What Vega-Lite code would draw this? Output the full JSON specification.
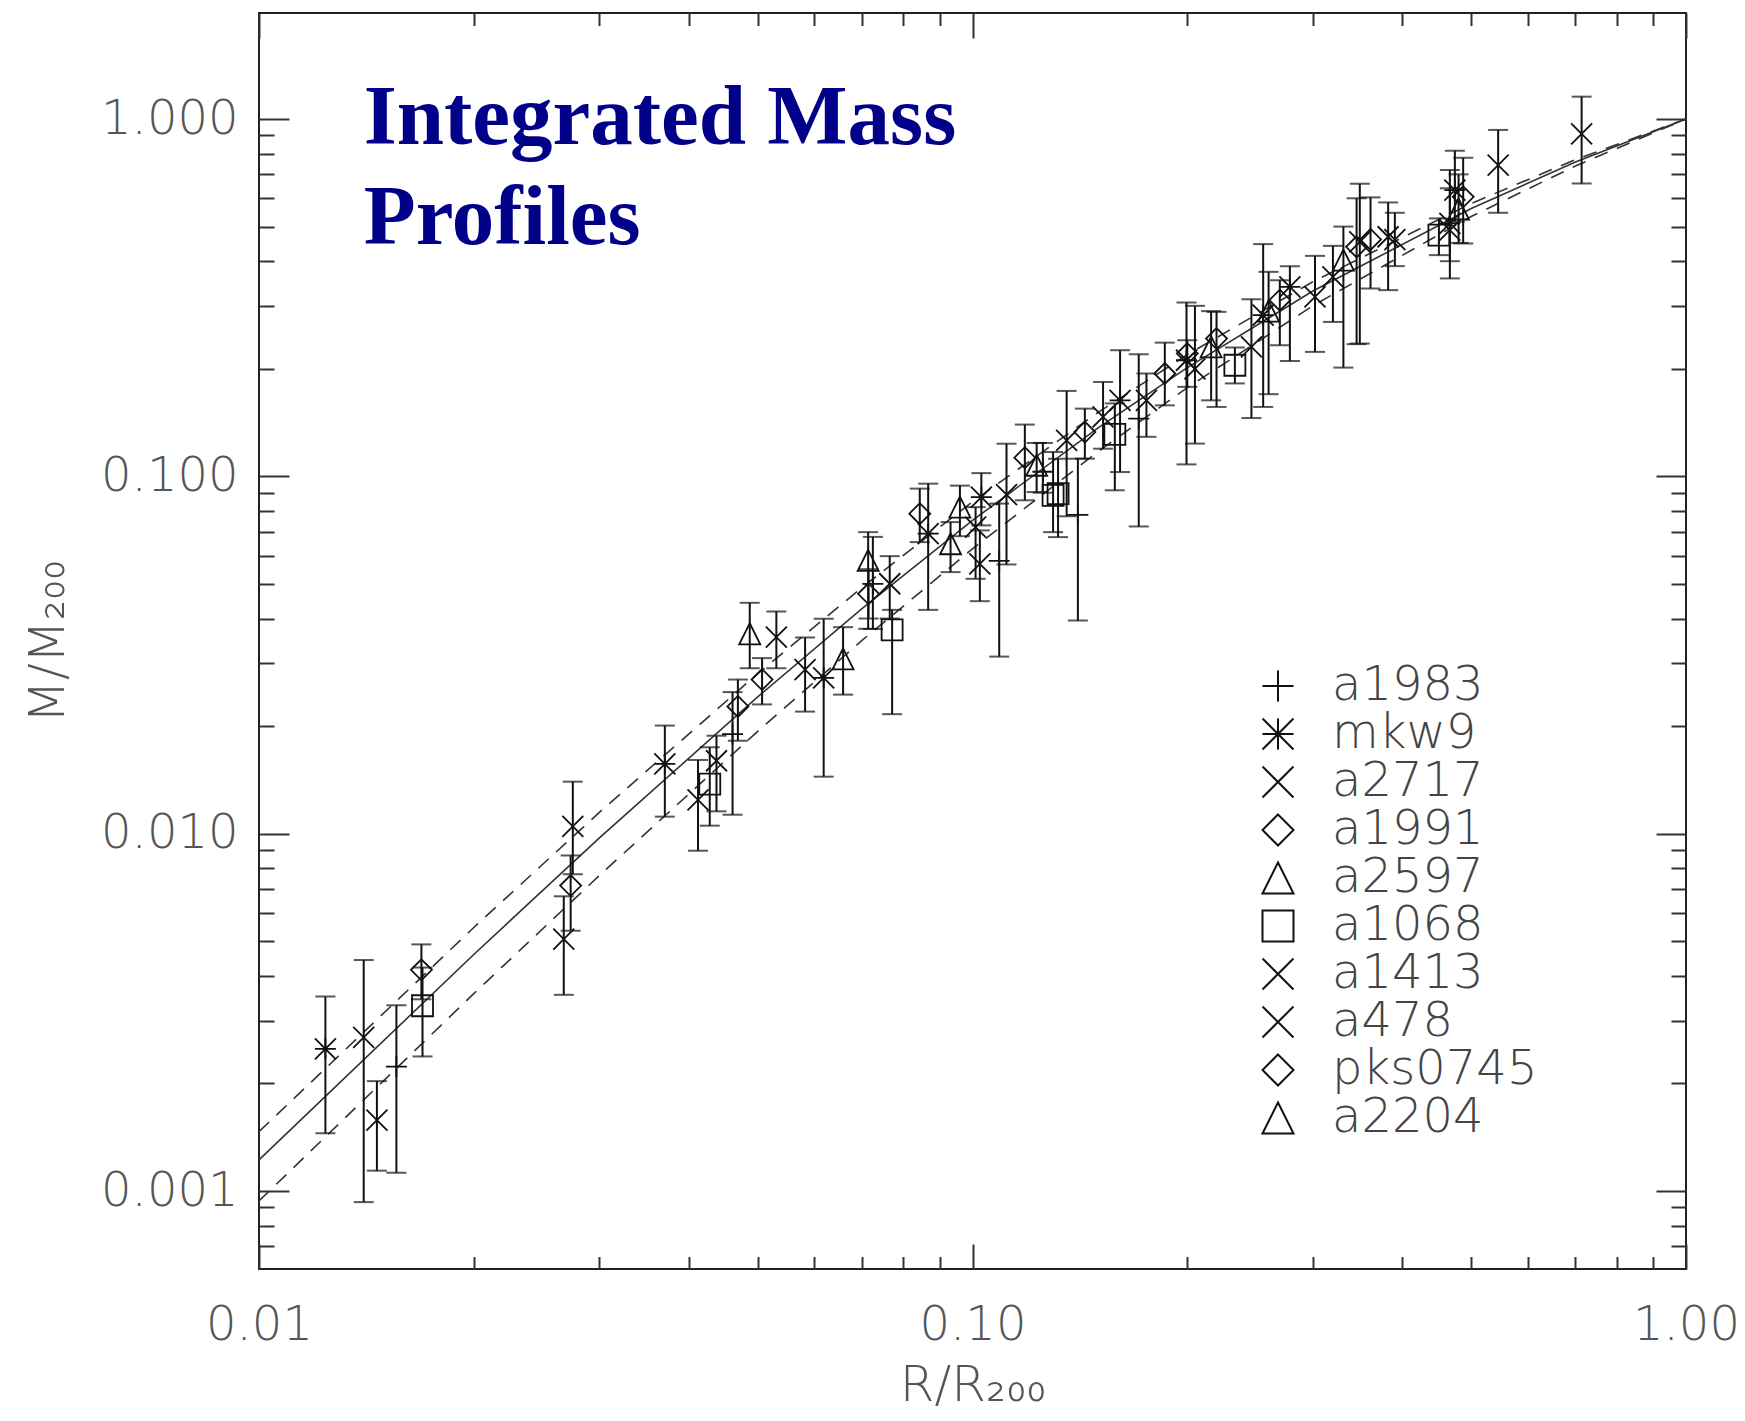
{
  "$schema": "https://vega.github.io/schema/vega-lite/v6.json",
  "autosize": "none",
  "width": 1427,
  "height": 1256,
  "padding": {"left": 259, "top": 13, "right": 59, "bottom": 152},
  "background": "white",
  "config": {
    "view": {"stroke": "#222", "strokeWidth": 2},
    "axis": {"grid": false, "domain": false, "tickColor": "#333", "tickWidth": 2, "labelFont": "DejaVu Sans", "labelFontWeight": 200, "labelColor": "#555", "titleFont": "DejaVu Sans", "titleFontWeight": 200, "titleColor": "#555"}
  },
  "datasets": {
    "lines": [
      {"x": 0.01, "y": 0.001222, "k": "solid"}, {"x": 0.02, "y": 0.004592, "k": "solid"}, {"x": 0.03, "y": 0.009732, "k": "solid"}, {"x": 0.05, "y": 0.024148, "k": "solid"}, {"x": 0.07, "y": 0.042618, "k": "solid"}, {"x": 0.1, "y": 0.075262, "k": "solid"}, {"x": 0.15, "y": 0.13673, "k": "solid"}, {"x": 0.2, "y": 0.20153, "k": "solid"}, {"x": 0.3, "y": 0.33002, "k": "solid"}, {"x": 0.5, "y": 0.56184, "k": "solid"}, {"x": 0.7, "y": 0.75782, "k": "solid"}, {"x": 1.0, "y": 1.0, "k": "solid"},
      {"x": 0.01, "y": 0.001466, "k": "upper"}, {"x": 0.02, "y": 0.005463, "k": "upper"}, {"x": 0.03, "y": 0.011478, "k": "upper"}, {"x": 0.05, "y": 0.028042, "k": "upper"}, {"x": 0.07, "y": 0.048858, "k": "upper"}, {"x": 0.1, "y": 0.084904, "k": "upper"}, {"x": 0.15, "y": 0.15103, "k": "upper"}, {"x": 0.2, "y": 0.21906, "k": "upper"}, {"x": 0.3, "y": 0.3505, "k": "upper"}, {"x": 0.5, "y": 0.58026, "k": "upper"}, {"x": 0.7, "y": 0.76974, "k": "upper"}, {"x": 1.0, "y": 1.0, "k": "upper"},
      {"x": 0.01, "y": 0.000938, "k": "lower"}, {"x": 0.02, "y": 0.003567, "k": "lower"}, {"x": 0.03, "y": 0.007642, "k": "lower"}, {"x": 0.05, "y": 0.019341, "k": "lower"}, {"x": 0.07, "y": 0.034728, "k": "lower"}, {"x": 0.1, "y": 0.062707, "k": "lower"}, {"x": 0.15, "y": 0.11737, "k": "lower"}, {"x": 0.2, "y": 0.17709, "k": "lower"}, {"x": 0.3, "y": 0.30021, "k": "lower"}, {"x": 0.5, "y": 0.53364, "k": "lower"}, {"x": 0.7, "y": 0.73898, "k": "lower"}, {"x": 1.0, "y": 1.0, "k": "lower"}
    ],
    "pts": [
      {"x": 0.01239, "y": 0.0025, "lo": 0.00145, "hi": 0.0035, "c": "mkw9"},
      {"x": 0.01402, "y": 0.00269, "lo": 0.000931, "hi": 0.00443, "c": "a2717"},
      {"x": 0.01463, "y": 0.00158, "lo": 0.00114, "hi": 0.00203, "c": "a2717"},
      {"x": 0.01558, "y": 0.00223, "lo": 0.001125, "hi": 0.00331, "c": "a1983"},
      {"x": 0.01689, "y": 0.00416, "lo": 0.00344, "hi": 0.0049, "c": "a1991"},
      {"x": 0.01695, "y": 0.0033, "lo": 0.00238, "hi": 0.00422, "c": "a1068"},
      {"x": 0.02674, "y": 0.00507, "lo": 0.00354, "hi": 0.00668, "c": "a1413"},
      {"x": 0.02734, "y": 0.00716, "lo": 0.00535, "hi": 0.00869, "c": "a1991"},
      {"x": 0.02753, "y": 0.01048, "lo": 0.0077, "hi": 0.01398, "c": "a2717"},
      {"x": 0.03705, "y": 0.01567, "lo": 0.01116, "hi": 0.02007, "c": "mkw9"},
      {"x": 0.04124, "y": 0.01243, "lo": 0.00896, "hi": 0.01608, "c": "a1413"},
      {"x": 0.04283, "y": 0.01377, "lo": 0.01053, "hi": 0.01745, "c": "a1068"},
      {"x": 0.04377, "y": 0.016, "lo": 0.01155, "hi": 0.0188, "c": "a2717"},
      {"x": 0.0461, "y": 0.019, "lo": 0.0113, "hi": 0.0249, "c": "a1983"},
      {"x": 0.0469, "y": 0.0227, "lo": 0.0182, "hi": 0.027, "c": "a1991"},
      {"x": 0.05071, "y": 0.027, "lo": 0.023, "hi": 0.031, "c": "pks0745"},
      {"x": 0.04873, "y": 0.03626, "lo": 0.02904, "hi": 0.04427, "c": "a2597"},
      {"x": 0.0531, "y": 0.03548, "lo": 0.02904, "hi": 0.04188, "c": "a2717"},
      {"x": 0.05826, "y": 0.02879, "lo": 0.02196, "hi": 0.0354, "c": "a1413"},
      {"x": 0.06186, "y": 0.0273, "lo": 0.01444, "hi": 0.03995, "c": "mkw9"},
      {"x": 0.06586, "y": 0.03085, "lo": 0.0245, "hi": 0.03784, "c": "a2204"},
      {"x": 0.07141, "y": 0.0582, "lo": 0.03744, "hi": 0.0698, "c": "a2597"},
      {"x": 0.0715, "y": 0.04692, "lo": 0.04, "hi": 0.055, "c": "a1991"},
      {"x": 0.0725, "y": 0.05, "lo": 0.0374, "hi": 0.0677, "c": "a1983"},
      {"x": 0.07656, "y": 0.05005, "lo": 0.04, "hi": 0.0598, "c": "a478"},
      {"x": 0.07715, "y": 0.03719, "lo": 0.0216, "hi": 0.0423, "c": "a1068"},
      {"x": 0.08435, "y": 0.0786, "lo": 0.06546, "hi": 0.0924, "c": "pks0745"},
      {"x": 0.08667, "y": 0.06913, "lo": 0.0423, "hi": 0.09539, "c": "mkw9"},
      {"x": 0.09316, "y": 0.06477, "lo": 0.05395, "hi": 0.07447, "c": "a2204"},
      {"x": 0.09602, "y": 0.08203, "lo": 0.068, "hi": 0.0942, "c": "a2597"},
      {"x": 0.1029, "y": 0.0875, "lo": 0.07291, "hi": 0.1021, "c": "mkw9"},
      {"x": 0.1024, "y": 0.05693, "lo": 0.04474, "hi": 0.07059, "c": "a1413"},
      {"x": 0.101, "y": 0.0721, "lo": 0.05167, "hi": 0.082, "c": "a478"},
      {"x": 0.1116, "y": 0.08885, "lo": 0.05668, "hi": 0.1234, "c": "a478"},
      {"x": 0.109, "y": 0.058, "lo": 0.0313, "hi": 0.0839, "c": "a1983"},
      {"x": 0.1184, "y": 0.1128, "lo": 0.0857, "hi": 0.1396, "c": "pks0745"},
      {"x": 0.123, "y": 0.1074, "lo": 0.09036, "hi": 0.124, "c": "a2204"},
      {"x": 0.1255, "y": 0.103, "lo": 0.09, "hi": 0.124, "c": "a1983"},
      {"x": 0.1297, "y": 0.08848, "lo": 0.0698, "hi": 0.117, "c": "a1068"},
      {"x": 0.1318, "y": 0.0895, "lo": 0.0676, "hi": 0.112, "c": "a1068"},
      {"x": 0.1355, "y": 0.1261, "lo": 0.0773, "hi": 0.1734, "c": "a478"},
      {"x": 0.1405, "y": 0.078, "lo": 0.0395, "hi": 0.112, "c": "a1983"},
      {"x": 0.1437, "y": 0.133, "lo": 0.1121, "hi": 0.1547, "c": "a1991"},
      {"x": 0.1524, "y": 0.1466, "lo": 0.1195, "hi": 0.1837, "c": "a1413"},
      {"x": 0.161, "y": 0.1632, "lo": 0.1028, "hi": 0.2254, "c": "mkw9"},
      {"x": 0.1583, "y": 0.131, "lo": 0.0914, "hi": 0.16, "c": "a1068"},
      {"x": 0.1753, "y": 0.1632, "lo": 0.129, "hi": 0.194, "c": "a478"},
      {"x": 0.171, "y": 0.145, "lo": 0.0724, "hi": 0.2196, "c": "a1983"},
      {"x": 0.186, "y": 0.194, "lo": 0.158, "hi": 0.2367, "c": "a1991"},
      {"x": 0.1995, "y": 0.2113, "lo": 0.108, "hi": 0.3065, "c": "mkw9"},
      {"x": 0.205, "y": 0.2, "lo": 0.1235, "hi": 0.3, "c": "a478"},
      {"x": 0.2, "y": 0.2206, "lo": 0.178, "hi": 0.2404, "c": "pks0745"},
      {"x": 0.2198, "y": 0.243, "lo": 0.1564, "hi": 0.2886, "c": "pks0745"},
      {"x": 0.216, "y": 0.2302, "lo": 0.1632, "hi": 0.29, "c": "a2204"},
      {"x": 0.2332, "y": 0.2046, "lo": 0.182, "hi": 0.2294, "c": "a1068"},
      {"x": 0.246, "y": 0.2303, "lo": 0.1456, "hi": 0.313, "c": "a1413"},
      {"x": 0.2555, "y": 0.2825, "lo": 0.1564, "hi": 0.4466, "c": "mkw9"},
      {"x": 0.26, "y": 0.29, "lo": 0.1698, "hi": 0.3735, "c": "a2204"},
      {"x": 0.2696, "y": 0.3112, "lo": 0.2328, "hi": 0.354, "c": "a1991"},
      {"x": 0.2785, "y": 0.339, "lo": 0.2104, "hi": 0.3875, "c": "mkw9"},
      {"x": 0.302, "y": 0.3179, "lo": 0.223, "hi": 0.414, "c": "a478"},
      {"x": 0.32, "y": 0.3616, "lo": 0.2705, "hi": 0.4416, "c": "a1413"},
      {"x": 0.331, "y": 0.403, "lo": 0.2015, "hi": 0.5, "c": "a2204"},
      {"x": 0.3454, "y": 0.4387, "lo": 0.2344, "hi": 0.6, "c": "pks0745"},
      {"x": 0.349, "y": 0.453, "lo": 0.2353, "hi": 0.659, "c": "a478"},
      {"x": 0.3613, "y": 0.4603, "lo": 0.3355, "hi": 0.6035, "c": "pks0745"},
      {"x": 0.3824, "y": 0.4683, "lo": 0.332, "hi": 0.5842, "c": "a478"},
      {"x": 0.3908, "y": 0.46, "lo": 0.3875, "hi": 0.5465, "c": "a1413"},
      {"x": 0.4505, "y": 0.4732, "lo": 0.416, "hi": 0.527, "c": "a1068"},
      {"x": 0.4667, "y": 0.489, "lo": 0.4, "hi": 0.72, "c": "a478"},
      {"x": 0.4667, "y": 0.5104, "lo": 0.358, "hi": 0.64, "c": "mkw9"},
      {"x": 0.4743, "y": 0.6326, "lo": 0.516, "hi": 0.815, "c": "mkw9"},
      {"x": 0.4872, "y": 0.6059, "lo": 0.4484, "hi": 0.779, "c": "pks0745"},
      {"x": 0.48, "y": 0.56, "lo": 0.45, "hi": 0.7, "c": "a2204"},
      {"x": 0.5454, "y": 0.743, "lo": 0.5465, "hi": 0.932, "c": "a478"},
      {"x": 0.714, "y": 0.908, "lo": 0.66, "hi": 1.155, "c": "a478"}
    ]
  },
  "resolve": {"axis": {"x": "independent", "y": "independent"}},
  "layer": [
    {
      "data": {"name": "lines"},
      "transform": [{"filter": "datum.k === 'solid'"}],
      "mark": {"type": "line", "color": "#333", "strokeWidth": 1.6},
      "encoding": {
        "x": {"field": "x", "type": "quantitative", "scale": {"type": "log", "domain": [0.01, 1], "nice": false, "zero": false},
          "axis": {"orient": "bottom", "values": [0.01, 0.1, 1], "format": ".2f", "tickSize": -25, "labelFontSize": 48, "labelPadding": 57, "labelFlush": false, "labelOverlap": false, "title": "R/R₂₀₀", "titleFontSize": 50, "titlePadding": 11}},
        "y": {"field": "y", "type": "quantitative", "scale": {"type": "log", "domain": [0.000605, 1.98], "nice": false, "zero": false},
          "axis": {"orient": "left", "values": [0.001, 0.01, 0.1, 1], "format": ".3f", "tickSize": -30, "labelFontSize": 48, "labelPadding": 51, "labelFlush": false, "labelOverlap": false, "title": "M/M₂₀₀", "titleFontSize": 50, "titlePadding": 27}}
      }
    },
    {
      "data": {"name": "lines"},
      "transform": [{"filter": "datum.k !== 'solid'"}],
      "mark": {"type": "line", "color": "#333", "strokeWidth": 1.6, "strokeDash": [14, 10]},
      "encoding": {
        "detail": {"field": "k", "type": "nominal"},
        "x": {"field": "x", "type": "quantitative", "scale": {"type": "log", "domain": [0.01, 1], "nice": false, "zero": false},
          "axis": {"orient": "bottom", "values": [0.02, 0.03, 0.04, 0.05, 0.06, 0.07, 0.08, 0.09, 0.2, 0.3, 0.4, 0.5, 0.6, 0.7, 0.8, 0.9], "tickSize": -12.5, "labels": false, "title": null}},
        "y": {"field": "y", "type": "quantitative", "scale": {"type": "log", "domain": [0.000605, 1.98], "nice": false, "zero": false},
          "axis": {"orient": "left", "values": [0.0007, 0.0008, 0.0009, 0.002, 0.003, 0.004, 0.005, 0.006, 0.007, 0.008, 0.009, 0.02, 0.03, 0.04, 0.05, 0.06, 0.07, 0.08, 0.09, 0.2, 0.3, 0.4, 0.5, 0.6, 0.7, 0.8, 0.9], "tickSize": -15, "labels": false, "title": null}}
      }
    },
    {
      "data": {"name": "pts"},
      "mark": {"type": "rule", "color": "#111", "strokeWidth": 2},
      "encoding": {
        "x": {"field": "x", "type": "quantitative", "scale": {"type": "log", "domain": [0.01, 1], "nice": false, "zero": false},
          "axis": {"orient": "top", "values": [0.01, 0.1, 1], "tickSize": -25, "labels": false, "title": null}},
        "y": {"field": "lo", "type": "quantitative", "scale": {"type": "log", "domain": [0.000605, 1.98], "nice": false, "zero": false},
          "axis": {"orient": "right", "values": [0.001, 0.01, 0.1, 1], "tickSize": -30, "labels": false, "title": null}},
        "y2": {"field": "hi"}
      }
    },
    {
      "data": {"name": "pts"},
      "mark": {"type": "tick", "orient": "horizontal", "color": "#111", "size": 20, "thickness": 2},
      "encoding": {
        "x": {"field": "x", "type": "quantitative", "scale": {"type": "log", "domain": [0.01, 1], "nice": false, "zero": false},
          "axis": {"orient": "top", "values": [0.02, 0.03, 0.04, 0.05, 0.06, 0.07, 0.08, 0.09, 0.2, 0.3, 0.4, 0.5, 0.6, 0.7, 0.8, 0.9], "tickSize": -12.5, "labels": false, "title": null}},
        "y": {"field": "lo", "type": "quantitative", "scale": {"type": "log", "domain": [0.000605, 1.98], "nice": false, "zero": false},
          "axis": {"orient": "right", "values": [0.0007, 0.0008, 0.0009, 0.002, 0.003, 0.004, 0.005, 0.006, 0.007, 0.008, 0.009, 0.02, 0.03, 0.04, 0.05, 0.06, 0.07, 0.08, 0.09, 0.2, 0.3, 0.4, 0.5, 0.6, 0.7, 0.8, 0.9], "tickSize": -15, "labels": false, "title": null}}
      }
    },
    {
      "data": {"name": "pts"},
      "mark": {"type": "tick", "orient": "horizontal", "color": "#111", "size": 20, "thickness": 2},
      "encoding": {
        "x": {"field": "x", "type": "quantitative", "scale": {"type": "log", "domain": [0.01, 1], "nice": false, "zero": false}, "axis": null},
        "y": {"field": "hi", "type": "quantitative", "scale": {"type": "log", "domain": [0.000605, 1.98], "nice": false, "zero": false}, "axis": null}
      }
    },
    {
      "data": {"name": "pts"},
      "mark": {"type": "point", "filled": false, "stroke": "#111", "strokeWidth": 1.8, "size": 441, "opacity": 1},
      "encoding": {
        "x": {"field": "x", "type": "quantitative", "scale": {"type": "log", "domain": [0.01, 1], "nice": false, "zero": false}, "axis": null},
        "y": {"field": "y", "type": "quantitative", "scale": {"type": "log", "domain": [0.000605, 1.98], "nice": false, "zero": false}, "axis": null},
        "shape": {"field": "c", "type": "nominal",
          "scale": {"domain": ["a1983", "mkw9", "a2717", "a1991", "a2597", "a1068", "a1413", "a478", "pks0745", "a2204"],
            "range": ["M-1,0L1,0M0,-1L0,1", "M-1,-1L1,1M-1,1L1,-1M0,-1L0,1M-1,0L1,0", "M-1,-1L1,1M-1,1L1,-1", "M0,-1L1,0L0,1L-1,0Z", "M0,-1L1,1L-1,1Z", "M-1,-1L1,-1L1,1L-1,1Z", "M-1,-1L1,1M-1,1L1,-1", "M-1,-1L1,1M-1,1L1,-1", "M0,-1L1,0L0,1L-1,0Z", "M0,-1L1,1L-1,1Z"]},
          "legend": {"orient": "none", "legendX": 995, "legendY": 649, "title": null, "padding": 0, "labelFont": "DejaVu Sans", "labelFontWeight": 200, "labelFontSize": 48, "labelColor": "#444", "labelLimit": 400, "labelOffset": 30, "rowPadding": 0, "symbolSize": 961, "symbolStrokeWidth": 2, "symbolStrokeColor": "#111", "symbolFillColor": "transparent", "symbolOpacity": 1}}
      }
    },
    {
      "data": {"values": [{"tx": 0.01402, "ty": 0.8511, "label": "Integrated Mass\nProfiles"}]},
      "mark": {"type": "text", "align": "left", "baseline": "alphabetic", "font": "Liberation Serif", "fontWeight": "bold", "fontSize": 85, "color": "#000088", "lineBreak": "\n", "lineHeight": 100},
      "encoding": {
        "x": {"field": "tx", "type": "quantitative", "scale": {"type": "log", "domain": [0.01, 1], "nice": false, "zero": false}, "axis": null},
        "y": {"field": "ty", "type": "quantitative", "scale": {"type": "log", "domain": [0.000605, 1.98], "nice": false, "zero": false}, "axis": null},
        "text": {"field": "label"}
      }
    }
  ]
}
